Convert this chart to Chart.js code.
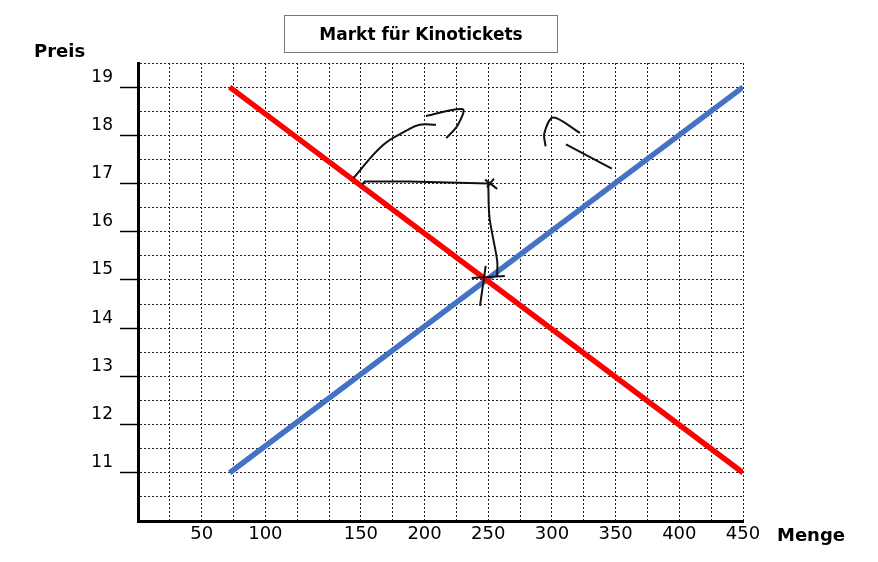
<!DOCTYPE html>
<html lang="de">
<head>
<meta charset="utf-8">
<title>Markt für Kinotickets</title>
<script src="https://cdn.jsdelivr.net/npm/chart.js@4.4.1/dist/chart.umd.min.js"></script>
<style>
  html, body { margin: 0; padding: 0; background: #fff; }
  #wrap { position: relative; width: 878px; height: 562px; font-family: "DejaVu Sans", Verdana, sans-serif; }
  #titel {
    position: absolute; left: 284px; top: 15px; width: 272px; height: 36px;
    border: 1.5px solid #777; line-height: 36px; text-align: center;
    font-weight: bold; font-size: 17px; color: #000;
  }
  .achse { position: absolute; font-weight: bold; font-size: 18px; color: #000; }
  #preis { left: 34px; top: 40px; }
  #menge { left: 777px; top: 524px; }
</style>
</head>
<body>
<div id="wrap">
  <canvas id="markt" width="878" height="562"></canvas>
  <div id="titel">Markt für Kinotickets</div>
  <div class="achse" id="preis">Preis</div>
  <div class="achse" id="menge">Menge</div>
</div>
<script>
// Beschriftung der Mengenachse, ein Eintrag je Kästchen (leer = ohne Zahl)
const mengeLabels = ['', '', '50', '', '100', '', '', '150', '', '200', '', '250', '', '300', '', '350', '', '400', '', '450'];
const preisMin = 10;
const preisMax = 19.5;

// Nachfrage (rot) und Angebot (blau)
const nachfrageMenge = [72, 450];
const nachfragePreis = [19, 11];
const angebotMenge = [72, 450];
const angebotPreis = [11, 19];

// handschriftliche Notizen, Paare [Menge, Preis]
const notizLinie = [[151, 16.98], [153, 17.04], [188, 17.04], [250, 17.0]];
const notizBogen = [[146, 17.11], [167, 17.79], [186, 18.1], [196, 18.22], [209, 18.22]];
const notizPfeil = [[201, 18.4], [230, 18.54], [226, 18.21], [217, 17.94]];
const notizKreuzOben1 = [[247.5, 17.08], [257, 16.89]];
const notizKreuzOben2 = [[254.5, 17.1], [249, 16.92]];
const notizSenkrecht = [[250, 17.0], [251, 16.29], [257, 15.4], [257, 15.08]];
const notizKreuzQuer = [[237, 15.04], [263, 15.08]];
const notizKreuzHoch = [[248, 15.29], [243.5, 14.46]];
const notizHaken = [[295, 17.77], [294, 18.04], [301, 18.37], [322, 18.05]];
const notizStrich = [[311, 17.81], [347, 17.31]];

// Menge -> Kästchenposition auf der Achse (die Achse ist nicht gleichmäßig geteilt)
const stuetz = [[0, 0]];
mengeLabels.forEach((l, i) => { if (l !== '') stuetz.push([Number(l), i]); });
function aufAchse(m) {
  for (let k = 1; k < stuetz.length; k++) {
    const [m0, i0] = stuetz[k - 1];
    const [m1, i1] = stuetz[k];
    if (m <= m1 || k === stuetz.length - 1) {
      return i0 + (m - m0) / (m1 - m0) * (i1 - i0);
    }
  }
  return 0;
}

function punkte(mengen, preise) {
  return mengen.map((m, i) => ({ x: aufAchse(m), y: preise[i] }));
}
function notiz(paare, tension) {
  return {
    data: paare.map(p => ({ x: aufAchse(p[0]), y: p[1] })),
    borderColor: '#111',
    borderWidth: 2,
    pointRadius: 0,
    tension: tension || 0,
    order: 0
  };
}

new Chart(document.getElementById('markt'), {
  type: 'line',
  data: {
    datasets: [
      notiz(notizLinie),
      notiz(notizBogen, 0.4),
      notiz(notizPfeil, 0.3),
      notiz(notizKreuzOben1),
      notiz(notizKreuzOben2),
      notiz(notizSenkrecht, 0.3),
      notiz(notizKreuzQuer),
      notiz(notizKreuzHoch),
      notiz(notizHaken, 0.3),
      notiz(notizStrich),
      {
        label: 'Nachfrage',
        data: punkte(nachfrageMenge, nachfragePreis),
        borderColor: '#ff0000',
        borderWidth: 5.5,
        pointRadius: 0,
        order: 1
      },
      {
        label: 'Angebot',
        data: punkte(angebotMenge, angebotPreis),
        borderColor: '#4472c4',
        borderWidth: 5.5,
        pointRadius: 0,
        order: 2
      }
    ]
  },
  options: {
    responsive: false,
    animation: false,
    layout: { padding: { left: 0, top: 63, right: 135, bottom: 0 } },
    plugins: { legend: { display: false }, tooltip: { enabled: false } },
    scales: {
      x: {
        type: 'linear',
        min: 0,
        max: mengeLabels.length - 1,
        afterBuildTicks: s => { s.ticks = mengeLabels.map((_, i) => ({ value: i })); },
        afterFit: s => { s.height = 41; },
        ticks: {
          autoSkip: false,
          maxRotation: 0,
          padding: 3,
          color: '#000',
          font: { family: 'DejaVu Sans', size: 18 },
          callback: v => mengeLabels[v] || ''
        },
        grid: { color: '#222', lineWidth: 1, drawTicks: false },
        border: { color: '#000', width: 3, dash: [2, 2] }
      },
      y: {
        min: preisMin,
        max: preisMax,
        afterFit: s => { s.width = 138; },
        ticks: {
          stepSize: 0.5,
          padding: 7,
          labelOffset: -10,
          color: '#000',
          font: { family: 'DejaVu Sans', size: 17 },
          callback: v => (Number.isInteger(v) && v > preisMin) ? v : ''
        },
        grid: {
          color: '#222',
          lineWidth: 1,
          tickLength: 18,
          tickWidth: 1.5,
          tickColor: c => (Number.isInteger(c.tick.value) && c.tick.value > preisMin) ? '#000' : 'rgba(0,0,0,0)'
        },
        border: { color: '#000', width: 3, dash: [2, 2] }
      }
    }
  }
});
</script>
</body>
</html>
